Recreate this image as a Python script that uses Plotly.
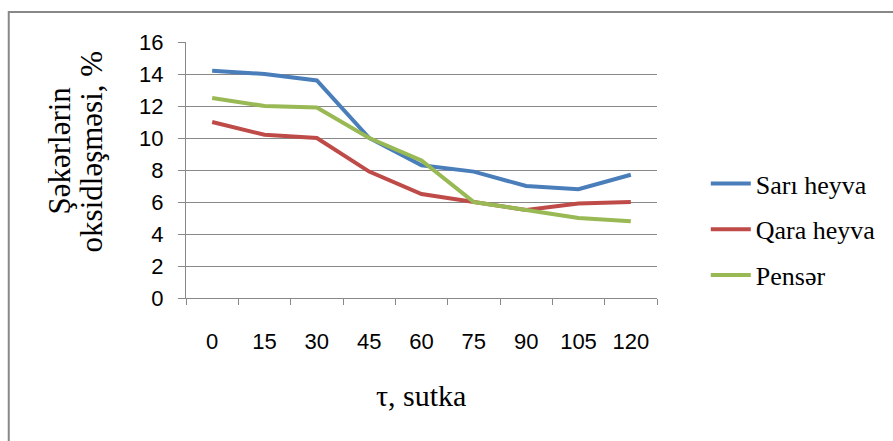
import plotly.graph_objects as go

days = ["0", "15", "30", "45", "60", "75", "90", "105", "120"]
sari_heyva = [14.2, 14.0, 13.6, 10.0, 8.3, 7.9, 7.0, 6.8, 7.7]
qara_heyva = [11.0, 10.2, 10.0, 7.9, 6.5, 6.0, 5.5, 5.9, 6.0]
penser = [12.5, 12.0, 11.9, 10.0, 8.6, 6.0, 5.5, 5.0, 4.8]
y_ticks = [0, 2, 4, 6, 8, 10, 12, 14, 16]

series = [
    ("Sarı heyva", sari_heyva, "#4A7EBB"),
    ("Qara heyva", qara_heyva, "#BE4B48"),
    ("Pensər", penser, "#98B954"),
]

fig = go.Figure()
for name, vals, col in series:
    fig.add_trace(go.Scatter(x=days, y=vals, name=name, mode="lines", legendgroup=name,
                             line=dict(color=col, width=4)))

L, R, T, B = 186, 659, 42, 298
W, H = 893, 441
pw, ph = R - L, B - T

def px_x(p):
    return (p - L) / pw

def px_y(p):
    return (B - p) / ph

fig.update_layout(
    width=W, height=H,
    margin=dict(l=L, r=W - R, t=T, b=H - B, pad=0),
    paper_bgcolor="white", plot_bgcolor="white",
    showlegend=True,
    legend=dict(x=px_x(708), y=px_y(160), xanchor="left", yanchor="top",
                font=dict(family="Liberation Serif", size=26, color="black"),
                tracegroupgap=9, itemwidth=40, bgcolor="rgba(0,0,0,0)"),
    xaxis=dict(type="category", tickson="boundaries", ticks="outside", ticklen=6,
               range=[-0.5, len(days) - 0.5],
               tickcolor="#888888", showline=True, linecolor="#888888", linewidth=1,
               showgrid=False, tickfont=dict(family="Liberation Sans", size=22, color="black"),
               ticklabelstandoff=24, fixedrange=True),
    yaxis=dict(range=[0, 16], tickvals=y_ticks, ticks="outside", ticklen=7,
               tickcolor="#888888", showline=True, linecolor="#888888", linewidth=1,
               showgrid=True, gridcolor="#888888", gridwidth=1, zeroline=False,
               tickfont=dict(family="Liberation Sans", size=22, color="black"),
               ticklabelstandoff=10, fixedrange=True),
    shapes=[dict(type="rect", xref="paper", yref="paper",
                 x0=px_x(8), x1=px_x(905), y0=px_y(455), y1=px_y(12),
                 line=dict(color="#888888", width=2), layer="below")],
    annotations=[
        dict(text="Şəkərlərin", xref="paper", yref="paper",
             x=px_x(58), y=px_y(151), showarrow=False, textangle=-90,
             font=dict(family="Liberation Serif", size=31, color="black"),
             xanchor="center", yanchor="middle"),
        dict(text="oksidləşməsi, %", xref="paper", yref="paper",
             x=px_x(91), y=px_y(151), showarrow=False, textangle=-90,
             font=dict(family="Liberation Serif", size=31, color="black"),
             xanchor="center", yanchor="middle"),
        dict(text="τ, sutka", xref="paper", yref="paper",
             x=px_x(422), y=px_y(395), showarrow=False,
             font=dict(family="Liberation Serif", size=30, color="black"),
             xanchor="center", yanchor="middle"),
    ],
)

fig.write_html("out.html")
